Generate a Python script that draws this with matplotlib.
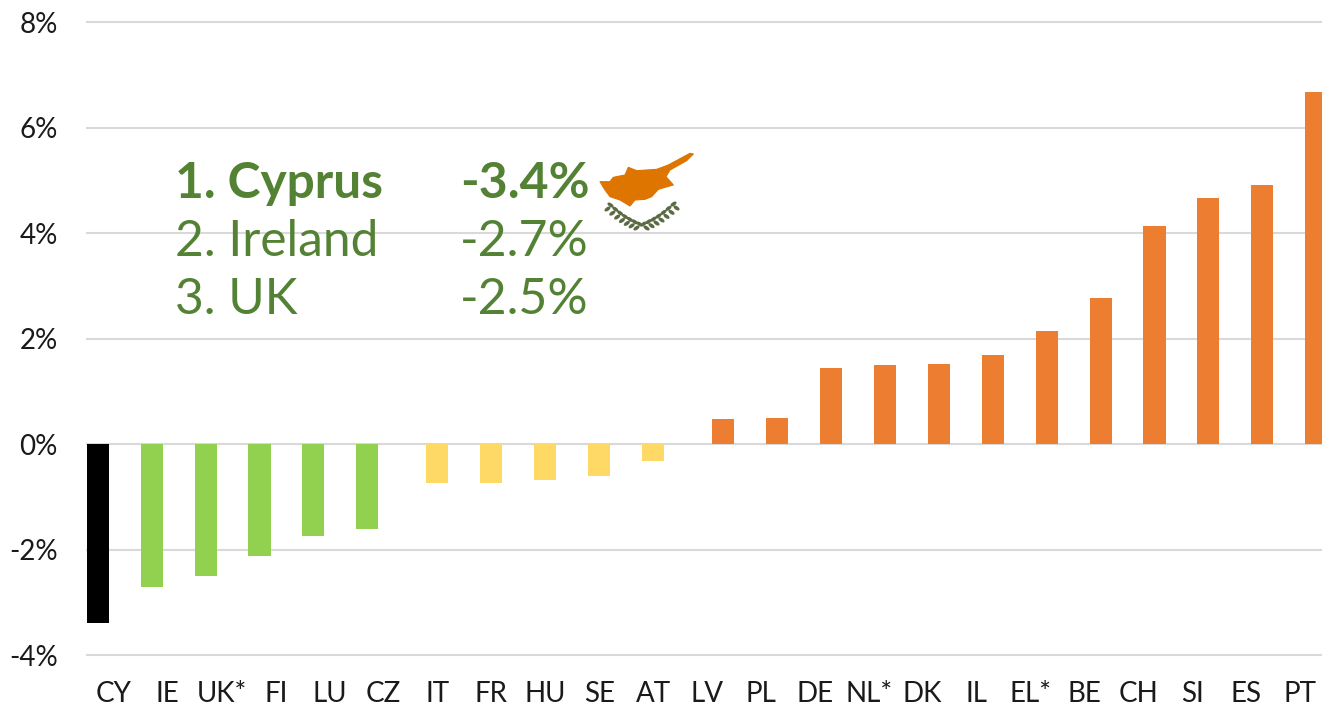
"""Bar chart of country changes with top 3 ranking and Cyprus map."""
import numpy as np
import matplotlib
matplotlib.use('Agg')  # Non-interactive backend
import matplotlib.pyplot as plt
from matplotlib.patches import Ellipse, Polygon
from matplotlib.transforms import Affine2D

countries = ['CY', 'IE', 'UK*', 'FI', 'LU', 'CZ', 'IT', 'FR', 'HU', 'SE', 'AT', 'LV',
             'PL', 'DE', 'NL*', 'DK', 'IL', 'EL*', 'BE', 'CH', 'SI', 'ES', 'PT']
values = [-3.4, -2.71, -2.51, -2.12, -1.74, -1.62, -0.74, -0.74, -0.68, -0.6, -0.33, 0.47,
          0.49, 1.44, 1.5, 1.52, 1.68, 2.15, 2.77, 4.14, 4.67, 4.91, 6.67]
groups = ['low'] * 6 + ['mid'] * 5 + ['high'] * 12
yticks = [-4, -2, 0, 2, 4, 6, 8]

rank_names = ['1. Cyprus', '2. Ireland', '3. UK']
rank_values = ['-3.4%', '-2.7%', '-2.5%']

# Each group is one series of a clustered bar chart, hence the sideways shift
group_offset = {'low': -0.3, 'mid': 0.0, 'high': 0.3}
group_color = {'low': '#92D050', 'mid': '#FFD966', 'high': '#ED7D31'}

W, H = 1322, 708
GREEN = '#548235'

plt.rcParams['font.family'] = ['Lato', 'DejaVu Sans']

fig = plt.figure(figsize=(W / 100, H / 100), dpi=100)
# Right edge runs a little past the image, as in the original crop
ax = fig.add_axes([87 / W, 1 - 655 / H, 1240 / W, 633 / H])

x = np.arange(len(countries))
offsets = np.array([group_offset[g] for g in groups])
colors = ['#000000' if c == 'CY' else group_color[g] for c, g in zip(countries, groups)]
ax.bar(x + offsets, values, width=0.41, color=colors, zorder=3)

ax.set_xlim(-0.5, len(countries) - 0.5)
ax.set_ylim(-4, 8)
ax.set_xticks(x)
ax.set_xticklabels(countries)
ax.set_yticks(yticks)
ax.set_yticklabels([f'{t}%' for t in yticks])
ax.tick_params(axis='x', length=0, pad=19, labelsize=20, colors='#1a1a1a')
ax.tick_params(axis='y', length=0, pad=21, labelsize=20, colors='#1a1a1a')
ax.grid(axis='y', color='#D9D9D9', linewidth=1.5, zorder=0)
ax.set_axisbelow(True)
for spine in ax.spines.values():
    spine.set_visible(False)
for line in ax.get_ygridlines():
    line.set_clip_on(False)

# Pixel coordinates of the image, y downwards
px = Affine2D().scale(1, -1).translate(0, H)

for i, (name, val) in enumerate(zip(rank_names, rank_values)):
    weight = 'bold' if i == 0 else 'normal'
    y = 184 + i * 58
    fig.text(175, y, name, transform=px, color=GREEN, fontsize=35.7, fontweight=weight,
             va='center', ha='left')
    fig.text(460, y, val, transform=px, color=GREEN, fontsize=36, fontweight=weight,
             va='center', ha='left')

# Cyprus map from the flag
island = np.array([(60, 125), (90, 125), (100, 112), (135, 105), (145, 82), (170, 92),
                   (230, 88), (265, 75), (330, 40), (340, 42), (320, 62), (270, 90),
                   (258, 110), (280, 135), (262, 140), (235, 148), (215, 170), (195, 178),
                   (165, 180), (150, 198), (120, 180), (90, 170), (75, 150)]) / 3 + (580, 140)
fig.add_artist(Polygon(island, closed=True, transform=px, facecolor='#DD7500',
                       edgecolor='#DD7500', linewidth=0.8, joinstyle='round', zorder=5))

# Olive branches
for t in np.linspace(0, 1, 7):
    for side, x0, y0, x1, y1 in [(1, 609, 207, 638, 226), (-1, 675, 206, 645, 226)]:
        cx = x0 + (x1 - x0) * t
        cy = y0 + (y1 - y0) * t + 2 * np.sin(np.pi * t)
        for d in (-1, 1):
            fig.add_artist(Ellipse((cx + d * 1.5 * side, cy - d * 2), 7, 3.6,
                                   angle=side * 35 * d, transform=px,
                                   facecolor='#5A6B44', edgecolor='none', zorder=5))

fig.savefig('out.png', dpi=100)
